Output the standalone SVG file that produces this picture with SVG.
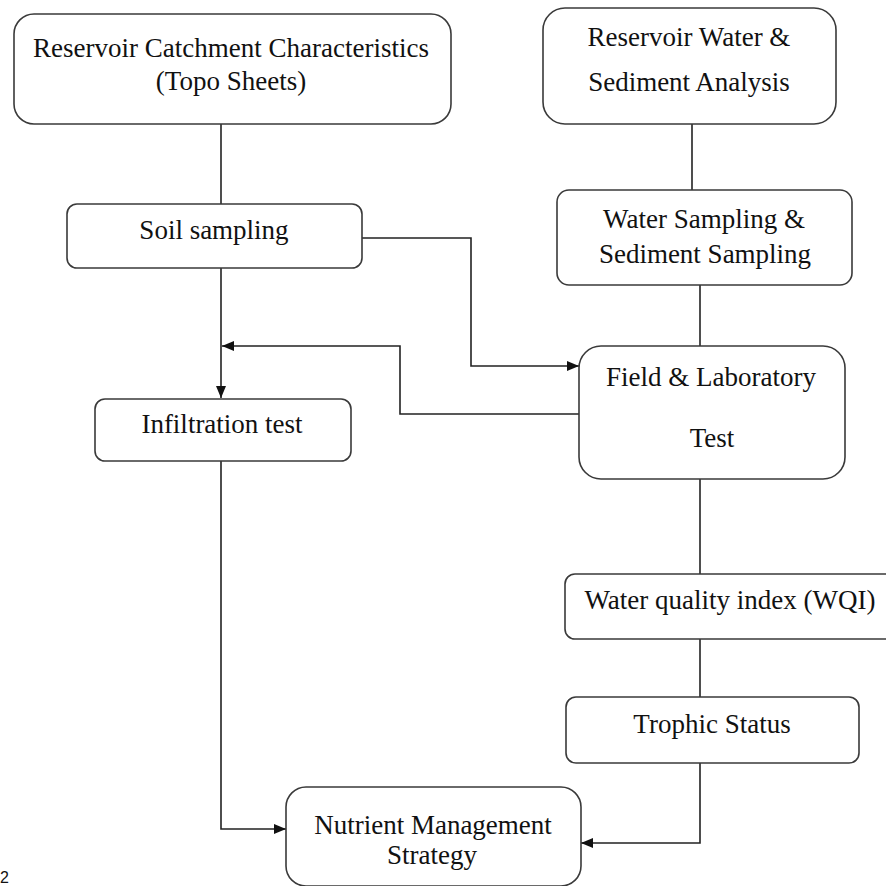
<svg xmlns="http://www.w3.org/2000/svg" width="886" height="886" viewBox="0 0 886 886">
<style>
.box{fill:#fff;stroke:#3a3a3a;stroke-width:1.6}
.t{font-family:"Liberation Serif","Times New Roman",serif;font-size:27px;fill:#111;text-anchor:middle}
.c{fill:none;stroke:#222;stroke-width:1.6}
</style>
<defs>
<marker id="ah" viewBox="0 0 12 10" refX="12" refY="5" markerWidth="12" markerHeight="10" markerUnits="userSpaceOnUse" orient="auto">
<path d="M0,0 L12,5 L0,10 Z" fill="#111"/>
</marker>
</defs>
<rect width="886" height="886" fill="#fff"/>
<g id="connectors">
<path class="c" d="M221,124 V204"/>
<path class="c" d="M221,268 V398" marker-end="url(#ah)"/>
<path class="c" d="M362,238 H471 V366 H579" marker-end="url(#ah)"/>
<path class="c" d="M579,414 H400 V346 H222" marker-end="url(#ah)"/>
<path class="c" d="M221,461 V829 H286" marker-end="url(#ah)"/>
<path class="c" d="M692,124 V190"/>
<path class="c" d="M700,285 V346"/>
<path class="c" d="M700,479 V574"/>
<path class="c" d="M700,639 V697"/>
<path class="c" d="M700,763 V843 H581" marker-end="url(#ah)"/>
</g>
<g id="catchment">
<rect class="box" x="14" y="14" width="437" height="110" rx="20"/>
<text class="t" x="231" y="57">Reservoir Catchment Characteristics</text>
<text class="t" x="231" y="90">(Topo Sheets)</text>
</g>
<g id="water-analysis">
<rect class="box" x="543" y="8" width="293" height="116" rx="22"/>
<text class="t" x="689" y="46">Reservoir Water &amp;</text>
<text class="t" x="689" y="91">Sediment Analysis</text>
</g>
<g id="soil">
<rect class="box" x="67" y="204" width="295" height="64" rx="10"/>
<text class="t" x="214" y="239">Soil sampling</text>
</g>
<g id="water-sampling">
<rect class="box" x="557" y="190" width="295" height="95" rx="12"/>
<text class="t" x="704" y="228">Water Sampling &amp;</text>
<text class="t" x="705" y="263">Sediment Sampling</text>
</g>
<g id="infiltration">
<rect class="box" x="95" y="399" width="256" height="62" rx="10"/>
<text class="t" x="222" y="433">Infiltration test</text>
</g>
<g id="field-lab">
<rect class="box" x="579" y="346" width="266" height="133" rx="22"/>
<text class="t" x="711" y="386">Field &amp; Laboratory</text>
<text class="t" x="712" y="447">Test</text>
</g>
<g id="wqi">
<rect class="box" x="565" y="574" width="330" height="65" rx="10"/>
<text class="t" x="730" y="609">Water quality index (WQI)</text>
</g>
<g id="trophic">
<rect class="box" x="566" y="697" width="293" height="66" rx="10"/>
<text class="t" x="712" y="733">Trophic Status</text>
</g>
<g id="nutrient">
<rect class="box" x="286" y="787" width="295" height="99" rx="20"/>
<text class="t" x="433" y="834">Nutrient Management</text>
<text class="t" x="432" y="864">Strategy</text>
</g>
<text x="0" y="883" style="font-family:'Liberation Sans',Arial,sans-serif;font-size:16px;fill:#111">2</text>
</svg>
